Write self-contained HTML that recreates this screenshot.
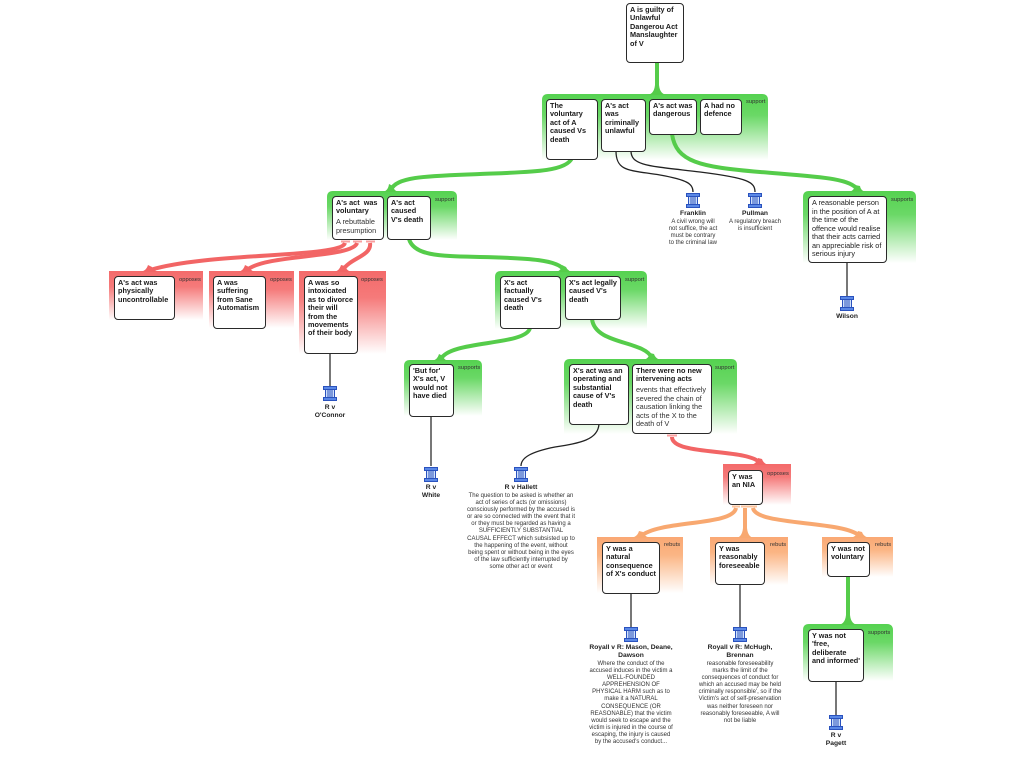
<!DOCTYPE html>
<html><head><meta charset="utf-8">
<style>
html,body{margin:0;padding:0;background:#fff;}
body{width:1024px;height:768px;position:relative;overflow:hidden;font-family:"Liberation Sans",Arial,sans-serif;}
svg{position:absolute;left:0;top:0;}
.b{position:absolute;box-sizing:border-box;background:#fff;border:1.2px solid #2a2a2a;border-radius:4px;padding:2px 2px 0 3px;font-size:7.3px;line-height:8.4px;font-weight:bold;color:#1a1a1a;white-space:nowrap;overflow:hidden;}
.b .d{font-weight:normal;color:#333;margin-top:2.5px;}
.b.r{font-weight:normal;color:#222;line-height:8.5px;}
.gl{position:absolute;font-size:5.8px;color:#333;white-space:nowrap;line-height:6px;}
.c{position:absolute;text-align:center;white-space:nowrap;}
.c .t{font-weight:bold;font-size:6.7px;line-height:8px;color:#222;}
.c .d{font-size:6px;line-height:7.1px;color:#333;margin-top:1px;}
</style></head><body>
<svg width="1024" height="768" viewBox="0 0 1024 768">
<defs>
<linearGradient id="gg" x1="0" y1="0" x2="0" y2="1"><stop offset="0" stop-color="#55d250"/><stop offset="0.32" stop-color="#6ad866"/><stop offset="1" stop-color="#ffffff"/></linearGradient>
<linearGradient id="rg" x1="0" y1="0" x2="0" y2="1"><stop offset="0" stop-color="#f46a6a"/><stop offset="0.32" stop-color="#f57a7a"/><stop offset="1" stop-color="#ffffff"/></linearGradient>
<linearGradient id="og" x1="0" y1="0" x2="0" y2="1"><stop offset="0" stop-color="#faa874"/><stop offset="0.32" stop-color="#fbb584"/><stop offset="1" stop-color="#ffffff"/></linearGradient>
<g id="ic">
<rect x="0.5" y="0.5" width="13" height="3" fill="#5a88e6" stroke="#2a52be" stroke-width="1"/>
<rect x="2.5" y="3.5" width="9" height="8" fill="#cfe0fb" stroke="#2a52be" stroke-width="1"/>
<line x1="5" y1="4" x2="5" y2="11" stroke="#2a52be" stroke-width="1"/>
<line x1="7" y1="4" x2="7" y2="11" stroke="#2a52be" stroke-width="1"/>
<line x1="9" y1="4" x2="9" y2="11" stroke="#2a52be" stroke-width="1"/>
<rect x="0.5" y="11.5" width="13" height="3" fill="#5a88e6" stroke="#2a52be" stroke-width="1"/>
</g>
</defs>
<!-- groups -->
<path d="M542,160 V100 Q542,94 548,94 H762 Q768,94 768,100 V160 Z" fill="url(#gg)"/>
<path d="M327,240 V197 Q327,191 333,191 H451 Q457,191 457,197 V240 Z" fill="url(#gg)"/>
<path d="M803,263 V197 Q803,191 809,191 H910 Q916,191 916,197 V263 Z" fill="url(#gg)"/>
<path d="M495,329 V277 Q495,271 501,271 H641 Q647,271 647,277 V329 Z" fill="url(#gg)"/>
<path d="M404,416 V366 Q404,360 410,360 H476 Q482,360 482,366 V416 Z" fill="url(#gg)"/>
<path d="M564,434 V365 Q564,359 570,359 H731 Q737,359 737,365 V434 Z" fill="url(#gg)"/>
<path d="M803,681 V630 Q803,624 809,624 H887 Q893,624 893,630 V681 Z" fill="url(#gg)"/>
<rect x="109" y="271" width="94" height="49" fill="url(#rg)"/>
<rect x="209" y="271" width="85" height="57" fill="url(#rg)"/>
<rect x="299" y="271" width="87" height="83" fill="url(#rg)"/>
<rect x="723" y="464" width="68" height="41" fill="url(#rg)"/>
<rect x="597" y="537" width="86" height="56" fill="url(#og)"/>
<rect x="710" y="537" width="78" height="48" fill="url(#og)"/>
<rect x="822" y="537" width="71" height="40" fill="url(#og)"/>

<!-- green connectors -->
<g fill="none" stroke="#55cc4a" stroke-width="4">
<path d="M657,62 L657,92"/>
<path d="M572,158 C566,172 530,172 480,174 C430,176 396,176 391,190"/>
<path d="M409,239 C414,256 440,256 480,257 C530,258 558,260 564,270"/>
<path d="M672,134 C676,162 700,167 760,172 C820,177 850,178 858,190"/>
<path d="M530,328 C526,346 450,340 441,359"/>
<path d="M592,319 C595,345 644,340 652,358"/>
<path d="M848,576 L848,622"/>
</g>
<g fill="#55cc4a">
<path d="M646,95 Q654,95 655,85 L659,85 Q660,95 668,95 Z"/>
<path d="M381,192 Q388,192 389,184 L393,186 Q394,192 401,192 Z"/>
<path d="M554,272 Q561,272 562,265 L566,267 Q568,272 575,272 Z"/>
<path d="M847,192 Q854,192 855,185 L860,186 Q861,192 868,192 Z"/>
<path d="M430,361 Q437,361 439,354 L443,356 Q444,361 451,361 Z"/>
<path d="M642,360 Q648,360 650,353 L654,354 Q656,360 663,360 Z"/>
<path d="M837,625 Q845,625 846,615 L850,615 Q851,625 859,625 Z"/>
</g>
<!-- red connectors -->
<g fill="none" stroke="#f26565" stroke-width="4">
<path d="M345,243 C341,258 210,252 150,270"/>
<path d="M357,243 C353,258 266,254 247,270"/>
<path d="M370,243 C372,256 350,258 343,270"/>
<path d="M672,437 C672,456 748,448 760,463"/>
</g>
<g fill="#f26565">
<path d="M138,272 Q146,272 148,265 L152,267 Q154,272 162,272 Z"/>
<path d="M236,272 Q243,272 245,265 L249,267 Q251,272 258,272 Z"/>
<path d="M332,272 Q339,272 341,265 L345,266 Q347,272 354,272 Z"/>
<path d="M749,465 Q756,465 758,458 L762,459 Q764,465 771,465 Z"/>
</g>
<g fill="#f8a0a0">
<rect x="341" y="240.5" width="9" height="2"/><rect x="353" y="240.5" width="9" height="2"/><rect x="366" y="240.5" width="9" height="2"/>
<rect x="667" y="434.5" width="10" height="2"/>
</g>
<!-- orange connectors -->
<g fill="none" stroke="#f8a870" stroke-width="4">
<path d="M736,508 C733,526 660,520 641,536"/>
<path d="M745,508 L745,535"/>
<path d="M753,508 C756,526 842,520 860,536"/>
</g>
<g fill="#f8a870">
<path d="M629,538 Q637,538 639,531 L643,532 Q645,538 653,538 Z"/>
<path d="M735,538 Q742,538 743,528 L747,528 Q748,538 755,538 Z"/>
<path d="M848,538 Q856,538 858,531 L862,532 Q864,538 872,538 Z"/>
<rect x="732" y="505.5" width="8" height="2" fill="#fbc49e"/><rect x="741" y="505.5" width="8" height="2" fill="#fbc49e"/><rect x="749" y="505.5" width="8" height="2" fill="#fbc49e"/>
</g>
<!-- black connectors -->
<g fill="none" stroke="#222" stroke-width="1.3">
<path d="M616,151 C616,172 630,170 660,175 C688,180 693,184 693,192"/>
<path d="M631,151 C631,166 650,166 700,172 C748,178 755,182 755,192"/>
<path d="M599,424 C598,440 580,443 555,447 C530,452 521,458 521,466"/>
</g>
<g fill="none" stroke="#555" stroke-width="1.6">
<path d="M847,262 L847,296"/>
<path d="M330,353 L330,386"/>
<path d="M431,416 L431,466"/>
<path d="M631,593 L631,627"/>
<path d="M740,584 L740,627"/>
<path d="M836,681 L836,715"/>
</g>
<!-- icons -->
<use href="#ic" x="686" y="193"/>
<use href="#ic" x="748" y="193"/>
<use href="#ic" x="840" y="296"/>
<use href="#ic" x="323" y="386"/>
<use href="#ic" x="424" y="467"/>
<use href="#ic" x="514" y="467"/>
<use href="#ic" x="624" y="627"/>
<use href="#ic" x="733" y="627"/>
<use href="#ic" x="829" y="715"/>
</svg>

<!-- boxes -->
<div class="b" style="left:626px;top:3px;width:58px;height:60px;">A is guilty of<br>Unlawful<br>Dangerou Act<br>Manslaughter<br>of V</div>

<div class="b" style="left:546px;top:99px;width:52px;height:61px;">The<br>voluntary<br>act of A<br>caused Vs<br>death</div>
<div class="b" style="left:601px;top:99px;width:45px;height:53px;">A's act<br>was<br>criminally<br>unlawful</div>
<div class="b" style="left:649px;top:99px;width:48px;height:36px;">A's act was<br>dangerous</div>
<div class="b" style="left:700px;top:99px;width:42px;height:36px;">A had no<br>defence</div>
<div class="gl" style="left:746px;top:99px;">support</div>

<div class="b" style="left:332px;top:196px;width:52px;height:44px;">A's act&nbsp; was<br>voluntary<div class="d">A rebuttable<br>presumption</div></div>
<div class="b" style="left:387px;top:196px;width:44px;height:44px;">A's act<br>caused<br>V's death</div>
<div class="gl" style="left:435px;top:197px;">support</div>

<div class="b r" style="left:808px;top:196px;width:79px;height:67px;">A reasonable person<br>in the position of A at<br>the time of the<br>offence would realise<br>that their acts carried<br>an appreciable risk of<br>serious injury</div>
<div class="gl" style="left:891px;top:197px;">supports</div>

<div class="b" style="left:114px;top:276px;width:61px;height:44px;">A's act was<br>physically<br>uncontrollable</div>
<div class="gl" style="left:179px;top:277px;">opposes</div>
<div class="b" style="left:213px;top:276px;width:53px;height:53px;">A was<br>suffering<br>from Sane<br>Automatism</div>
<div class="gl" style="left:270px;top:277px;">opposes</div>
<div class="b" style="left:304px;top:276px;width:54px;height:78px;">A was so<br>intoxicated<br>as to divorce<br>their will<br>from the<br>movements<br>of their body</div>
<div class="gl" style="left:361px;top:277px;">opposes</div>

<div class="b" style="left:500px;top:276px;width:61px;height:53px;">X's act<br>factually<br>caused V's<br>death</div>
<div class="b" style="left:565px;top:276px;width:56px;height:44px;">X's act legally<br>caused V's<br>death</div>
<div class="gl" style="left:625px;top:277px;">support</div>

<div class="b" style="left:409px;top:364px;width:45px;height:53px;">'But for'<br>X's act, V<br>would not<br>have died</div>
<div class="gl" style="left:458px;top:365px;">supports</div>

<div class="b" style="left:569px;top:364px;width:60px;height:61px;">X's act was an<br>operating and<br>substantial<br>cause of V's<br>death</div>
<div class="b" style="left:632px;top:364px;width:80px;height:70px;">There were no new<br>intervening acts<div class="d">events that effectively<br>severed the chain of<br>causation linking the<br>acts of the X to the<br>death of V</div></div>
<div class="gl" style="left:715px;top:365px;">support</div>

<div class="b" style="left:728px;top:470px;width:35px;height:35px;">Y was<br>an NIA</div>
<div class="gl" style="left:767px;top:471px;">opposes</div>

<div class="b" style="left:602px;top:542px;width:58px;height:52px;">Y was a<br>natural<br>consequence<br>of X's conduct</div>
<div class="gl" style="left:664px;top:542px;">rebuts</div>
<div class="b" style="left:715px;top:542px;width:50px;height:43px;">Y was<br>reasonably<br>foreseeable</div>
<div class="gl" style="left:770px;top:542px;">rebuts</div>
<div class="b" style="left:827px;top:542px;width:43px;height:35px;">Y was not<br>voluntary</div>
<div class="gl" style="left:875px;top:542px;">rebuts</div>

<div class="b" style="left:808px;top:629px;width:56px;height:53px;">Y was not<br>'free,<br>deliberate<br>and informed'</div>
<div class="gl" style="left:868px;top:630px;">supports</div>

<!-- case labels -->
<div class="c" style="left:643px;top:210px;width:100px;"><div class="t">Franklin</div><div class="d">A civil wrong will<br>not suffice, the act<br>must be contrary<br>to the criminal law</div></div>
<div class="c" style="left:705px;top:210px;width:100px;"><div class="t">Pullman</div><div class="d">A regulatory breach<br>is insufficient</div></div>
<div class="c" style="left:797px;top:313px;width:100px;"><div class="t">Wilson</div></div>
<div class="c" style="left:280px;top:404px;width:100px;"><div class="t">R v<br>O'Connor</div></div>
<div class="c" style="left:381px;top:484px;width:100px;"><div class="t">R v<br>White</div></div>
<div class="c" style="left:446px;top:484px;width:150px;"><div class="t">R v Hallett</div><div class="d">The question to be asked is whether an<br>act of series of acts (or omissions)<br>consciously performed by the accused is<br>or are so connected with the event that it<br>or they must be regarded as having a<br>SUFFICIENTLY SUBSTANTIAL<br>CAUSAL EFFECT which subsisted up to<br>the happening of the event, without<br>being spent or without being in the eyes<br>of the law sufficiently interrupted by<br>some other act or event</div></div>
<div class="c" style="left:571px;top:644px;width:120px;"><div class="t">Royall v R: Mason, Deane,<br>Dawson</div><div class="d">Where the conduct of the<br>accused induces in the victim a<br>WELL-FOUNDED<br>APPREHENSION OF<br>PHYSICAL HARM such as to<br>make it a NATURAL<br>CONSEQUENCE (OR<br>REASONABLE) that the victim<br>would seek to escape and the<br>victim is injured in the course of<br>escaping, the injury is caused<br>by the accused's conduct...</div></div>
<div class="c" style="left:680px;top:644px;width:120px;"><div class="t">Royall v R: McHugh,<br>Brennan</div><div class="d">reasonable foreseeability<br>marks the limit of the<br>consequences of conduct for<br>which an accused may be held<br>criminally responsible', so if the<br>Victim's act of self-preservation<br>was neither foreseen nor<br>reasonably foreseeable, A will<br>not be liable</div></div>
<div class="c" style="left:786px;top:732px;width:100px;"><div class="t">R v<br>Pagett</div></div>
</body></html>
